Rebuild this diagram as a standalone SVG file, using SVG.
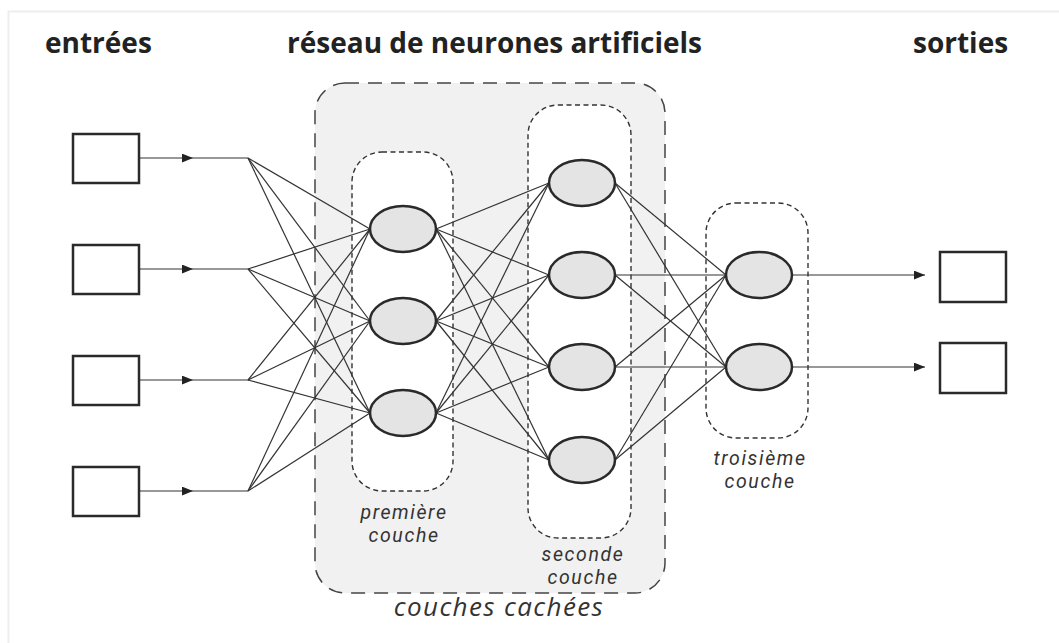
<svg xmlns="http://www.w3.org/2000/svg" width="1059" height="643" viewBox="0 0 1059 643">
<defs>
<marker id="arrow" viewBox="0 0 10 8" refX="10" refY="4" markerWidth="11" markerHeight="9" markerUnits="userSpaceOnUse" orient="auto">
<path d="M0,0 L10,4 L0,8 Z" fill="#222"/>
</marker>
</defs>
<style>
.title{font-family:"Open Sans","Liberation Sans",sans-serif;font-weight:bold;font-size:28px;fill:#222}
.lbl{font-family:Roboto,"Liberation Sans",sans-serif;font-style:italic;font-size:19.5px;letter-spacing:1.6px;fill:#333;text-anchor:middle}
.big{font-family:"Open Sans","Liberation Sans",sans-serif;font-style:italic;font-size:26px;letter-spacing:1.4px;fill:#333;text-anchor:middle}
.box{fill:#fff;stroke:#2a2a2a;stroke-width:2.5}
.neuron{fill:#e4e4e4;stroke:#2a2a2a;stroke-width:2.5}
.layer{fill:#fff;stroke:#333;stroke-width:1.4;stroke-dasharray:5 3.5}
.hidden{fill:#f1f1f1;stroke:#444;stroke-width:1.5;stroke-dasharray:14 9}
.conn line,.conn path{stroke:#333;stroke-width:1.2;fill:none}
</style>
<path d="M8.5 643 V11.5 H1059" fill="none" stroke="#eeeeee" stroke-width="2"/>
<text class="title" x="45" y="53">entrées</text>
<text class="title" x="287" y="53">réseau de neurones artificiels</text>
<text class="title" x="913" y="53">sorties</text>

<g id="hidden-layers">
<rect class="hidden" x="315" y="83" width="350" height="510" rx="30"/>
<text class="big" x="499" y="616">couches cachées</text>
</g>
<g id="layer1-frame">
<rect class="layer" x="352" y="152" width="101" height="339" rx="30"/>
<text class="lbl" x="404" y="519">première</text>
<text class="lbl" x="404" y="542">couche</text>
</g>
<g id="layer2-frame">
<rect class="layer" x="528" y="105" width="103" height="433" rx="30"/>
<text class="lbl" x="583" y="561">seconde</text>
<text class="lbl" x="583" y="584">couche</text>
</g>
<g id="layer3-frame">
<rect class="layer" x="706" y="203" width="102" height="235" rx="30"/>
<text class="lbl" x="760" y="465">troisième</text>
<text class="lbl" x="760" y="488">couche</text>
</g>

<g id="connectors" class="conn">
<path d="M139 158 H193 H248" marker-mid="url(#arrow)"/>
<path d="M139 269 H193 H248" marker-mid="url(#arrow)"/>
<path d="M139 380 H193 H248" marker-mid="url(#arrow)"/>
<path d="M139 491 H193 H248" marker-mid="url(#arrow)"/>
<line x1="248" y1="158" x2="370" y2="229"/><line x1="248" y1="158" x2="370" y2="321"/><line x1="248" y1="158" x2="370" y2="413"/>
<line x1="248" y1="269" x2="370" y2="229"/><line x1="248" y1="269" x2="370" y2="321"/><line x1="248" y1="269" x2="370" y2="413"/>
<line x1="248" y1="380" x2="370" y2="229"/><line x1="248" y1="380" x2="370" y2="321"/><line x1="248" y1="380" x2="370" y2="413"/>
<line x1="248" y1="491" x2="370" y2="229"/><line x1="248" y1="491" x2="370" y2="321"/><line x1="248" y1="491" x2="370" y2="413"/>
<line x1="436" y1="229" x2="549" y2="183"/><line x1="436" y1="229" x2="549" y2="275"/><line x1="436" y1="229" x2="549" y2="367"/><line x1="436" y1="229" x2="549" y2="460"/>
<line x1="436" y1="321" x2="549" y2="183"/><line x1="436" y1="321" x2="549" y2="275"/><line x1="436" y1="321" x2="549" y2="367"/><line x1="436" y1="321" x2="549" y2="460"/>
<line x1="436" y1="413" x2="549" y2="183"/><line x1="436" y1="413" x2="549" y2="275"/><line x1="436" y1="413" x2="549" y2="367"/><line x1="436" y1="413" x2="549" y2="460"/>
<line x1="615" y1="183" x2="726" y2="275"/><line x1="615" y1="183" x2="726" y2="367"/>
<line x1="615" y1="275" x2="726" y2="275"/><line x1="615" y1="275" x2="726" y2="367"/>
<line x1="615" y1="367" x2="726" y2="275"/><line x1="615" y1="367" x2="726" y2="367"/>
<line x1="615" y1="460" x2="726" y2="275"/><line x1="615" y1="460" x2="726" y2="367"/>
<line x1="792" y1="275" x2="925" y2="275" marker-end="url(#arrow)"/>
<line x1="792" y1="367" x2="925" y2="367" marker-end="url(#arrow)"/>
</g>

<g id="in1"><rect class="box" x="73" y="134" width="66" height="49"/></g>
<g id="in2"><rect class="box" x="73" y="245" width="66" height="49"/></g>
<g id="in3"><rect class="box" x="73" y="356" width="66" height="49"/></g>
<g id="in4"><rect class="box" x="73" y="467" width="66" height="49"/></g>

<g id="h1-1"><ellipse class="neuron" cx="403" cy="229" rx="33" ry="23"/></g>
<g id="h1-2"><ellipse class="neuron" cx="403" cy="321" rx="33" ry="23"/></g>
<g id="h1-3"><ellipse class="neuron" cx="403" cy="413" rx="33" ry="23"/></g>

<g id="h2-1"><ellipse class="neuron" cx="582" cy="183" rx="33" ry="23"/></g>
<g id="h2-2"><ellipse class="neuron" cx="582" cy="275" rx="33" ry="23"/></g>
<g id="h2-3"><ellipse class="neuron" cx="582" cy="367" rx="33" ry="23"/></g>
<g id="h2-4"><ellipse class="neuron" cx="582" cy="460" rx="33" ry="23"/></g>

<g id="h3-1"><ellipse class="neuron" cx="759" cy="275" rx="33" ry="23"/></g>
<g id="h3-2"><ellipse class="neuron" cx="759" cy="367" rx="33" ry="23"/></g>

<g id="out1"><rect class="box" x="940" y="252" width="66" height="50"/></g>
<g id="out2"><rect class="box" x="940" y="343" width="66" height="50"/></g>
</svg>
